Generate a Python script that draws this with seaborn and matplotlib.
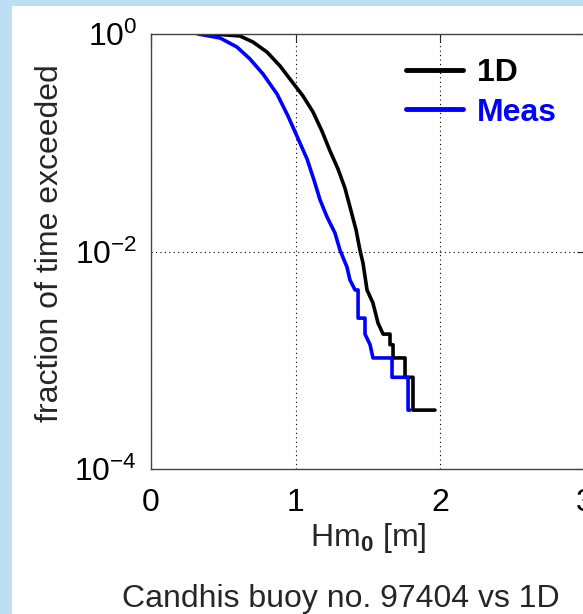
import numpy as np
import pandas as pd
import matplotlib
matplotlib.use("Agg")
import matplotlib.pyplot as plt
import seaborn as sns
from matplotlib.patches import Rectangle
from matplotlib.ticker import NullLocator, FixedLocator, FixedFormatter

# ---- data ----
series_labels = ["1D", "Meas"]

hs_1d = [0.430, 0.616, 0.706, 0.803, 0.893, 0.983, 1.052, 1.121, 1.183, 1.239,
         1.294, 1.342, 1.377, 1.419, 1.446, 1.467, 1.495, 1.536, 1.571, 1.606,
         1.654, 1.654, 1.675, 1.675, 1.758, 1.758, 1.813, 1.813, 1.965]
p_1d = [1.0, 0.959, 0.843, 0.682, 0.508, 0.354, 0.269, 0.192, 0.128, 0.0840,
        0.0574, 0.0384, 0.0257, 0.0158, 0.0103, 0.00784, 0.00443, 0.00336, 0.00220, 0.00174,
        0.00174, 0.00139, 0.00139, 0.00105, 0.00105, 0.000697, 0.000697, 0.000348, 0.000348]

hs_meas = [0.325, 0.478, 0.595, 0.685, 0.775, 0.872, 0.948, 1.010, 1.080, 1.128,
           1.170, 1.218, 1.273, 1.308, 1.356, 1.377, 1.412, 1.433, 1.433, 1.481,
           1.481, 1.516, 1.536, 1.668, 1.668, 1.779, 1.779, 1.792]
p_meas = [1.0, 0.919, 0.759, 0.589, 0.429, 0.281, 0.176, 0.115, 0.0709, 0.0454,
          0.0298, 0.0208, 0.0148, 0.0103, 0.00720, 0.00547, 0.00443, 0.00443, 0.00244, 0.00244,
          0.00174, 0.00139, 0.00105, 0.00105, 0.000697, 0.000697, 0.000348, 0.000348]

x_ticks = [0, 1, 2, 3]
x_tick_labels = ["0", "1", "2", "3"]
y_ticks = [1e-4, 1e-2, 1e0]
y_tick_labels = [r"$10^{-4}$", r"$10^{-2}$", r"$10^{0}$"]

x_label = r"Hm$_{\mathbf{0}}$ [m]"
y_label = "fraction of time exceeded"
title = "Candhis buoy no. 97404 vs 1D"

# ---- build table ----
df = pd.concat([
    pd.DataFrame({"Hm0": hs_1d, "P": p_1d, "series": series_labels[0]}),
    pd.DataFrame({"Hm0": hs_meas, "P": p_meas, "series": series_labels[1]}),
], ignore_index=True)

sns.set_theme(style="white")
plt.rcParams["font.family"] = ["Liberation Sans", "DejaVu Sans"]
plt.rcParams["mathtext.fontset"] = "custom"
plt.rcParams["mathtext.rm"] = "Liberation Sans"
plt.rcParams["mathtext.it"] = "Liberation Sans:italic"
plt.rcParams["mathtext.bf"] = "Liberation Sans:bold"
plt.rcParams["axes.unicode_minus"] = True

W, H = 583, 614
fig = plt.figure(figsize=(W / 100, H / 100), dpi=100)
fig.patch.set_facecolor("#BDDFF5")
fig.add_artist(Rectangle((12 / W, 0), 1, 1 - 6 / H, transform=fig.transFigure,
                         facecolor="white", edgecolor="none", zorder=-5))

ax_left, ax_top, ax_bot = 151, 34, 469
ax = fig.add_axes([ax_left / W, (H - ax_bot) / H, 433.5 / W, (ax_bot - ax_top) / H])
ax.set_facecolor("white")

palette = {"1D": "black", "Meas": "#0000FF"}
sns.lineplot(data=df, x="Hm0", y="P", hue="series", hue_order=series_labels,
             palette=palette, sort=False, estimator=None, linewidth=2.6, ax=ax)

ax.set_yscale("log")
ax.set_xlim(0, 3)
ax.set_ylim(1e-4, 1e0)
ax.xaxis.set_major_locator(FixedLocator(x_ticks))
ax.xaxis.set_major_formatter(FixedFormatter(x_tick_labels))
ax.yaxis.set_major_locator(FixedLocator(y_ticks))
ax.yaxis.set_major_formatter(FixedFormatter(y_tick_labels))
ax.yaxis.set_minor_locator(NullLocator())
ax.xaxis.set_minor_locator(NullLocator())

ax.grid(True, which="major", linestyle=(0, (1, 3)), color="black", linewidth=0.8)
ax.tick_params(axis="both", which="major", direction="in", length=6, width=0.8,
               top=True, right=True, labelsize=23, colors="#222222", labelcolor="black")
ax.tick_params(axis="x", pad=14)
ax.tick_params(axis="y", pad=10)
for s in ax.spines.values():
    s.set_color("#444444")
    s.set_linewidth(1.0)

ax.set_xlabel(x_label, fontsize=23, labelpad=2)
ax.set_ylabel(y_label, fontsize=23)
ax.yaxis.set_label_coords((65 - ax_left) / 433.5, (ax_bot - 243) / (ax_bot - ax_top))

leg = ax.legend(loc="upper left", bbox_to_anchor=(406 / W, 1 - 58 / H),
                bbox_transform=fig.transFigure, borderpad=0, borderaxespad=0,
                handlelength=1.78, handletextpad=0.45, labelspacing=0.3,
                frameon=False, prop={"weight": "bold", "size": 23},
                labelcolor="linecolor")
for line in leg.get_lines():
    line.set_linewidth(3.5)

fig.text(341 / W, 7 / H, title, ha="center", va="baseline", fontsize=23)

fig.savefig("out.png", dpi=100, facecolor=fig.get_facecolor())
